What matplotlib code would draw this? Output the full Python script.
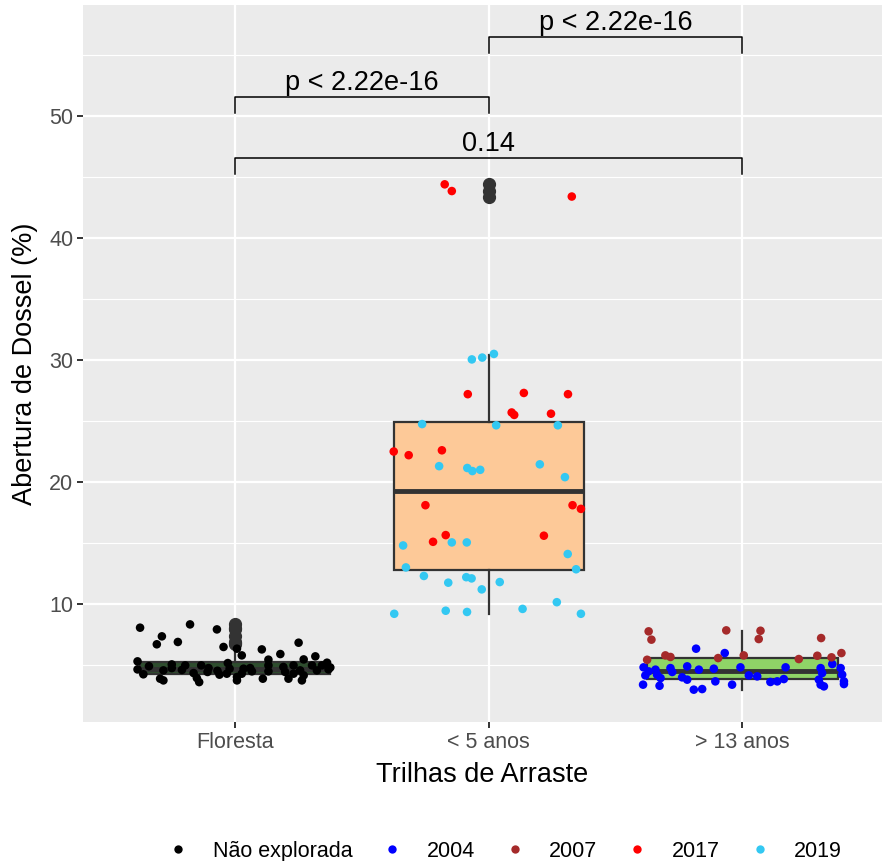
import matplotlib
matplotlib.use("Agg")
import matplotlib.pyplot as plt
from matplotlib.lines import Line2D
import numpy as np

plt.rcParams['font.family'] = ['Liberation Sans', 'DejaVu Sans']

categories = ["Floresta", "< 5 anos", "> 13 anos"]
box_fill = ["#2E4D2E", "#FDC998", "#8FD467"]

# box statistics
box_q1 = [4.26, 12.75, 3.85]
box_med = [4.70, 19.30, 4.50]
box_q3 = [5.25, 24.90, 5.60]
box_lo = [3.60, 9.20, 2.98]
box_hi = [6.48, 30.40, 7.80]
box_fliers = [[8.33, 8.06, 7.92, 7.35, 6.89, 6.83, 6.70],
              [44.40, 43.85, 43.40],
              []]

# jittered points: x position (category coordinate), value
nao_x = [0.625, 0.822, 0.928, 0.711, 0.691, 0.774, 0.954, 1.007, 1.026, 1.105,
         1.178, 1.250, 1.316, 1.270, 1.131, 1.131, 0.615, 0.615, 0.638, 0.704,
         0.717, 0.717, 0.750, 0.750, 0.803, 0.836, 0.849, 0.858, 0.866, 0.895,
         0.891, 0.930, 0.938, 0.971, 0.978, 0.967, 1.007, 1.007, 1.026, 1.033,
         1.059, 1.066, 1.109, 1.131, 1.190, 1.197, 1.210, 1.230, 1.230, 1.256,
         1.263, 1.270, 1.303, 1.322, 1.342, 1.362, 1.368, 1.375, 0.660, 0.790]
nao_y = [8.06, 8.33, 7.92, 7.35, 6.70, 6.89, 6.48, 6.34, 5.79, 6.28,
         5.90, 6.83, 5.71, 5.46, 5.44, 4.97, 5.30, 4.64, 4.24, 3.88,
         3.74, 4.56, 5.05, 4.75, 4.97, 4.34, 3.93, 3.60, 4.97, 4.75,
         4.43, 4.53, 4.21, 5.16, 4.70, 4.29, 4.02, 3.74, 4.29, 4.70,
         4.75, 4.48, 3.88, 4.48, 4.84, 4.43, 3.88, 4.29, 4.97, 4.56,
         3.74, 4.15, 4.97, 4.56, 4.97, 5.19, 4.64, 4.80, 4.90, 4.60]

y2004_x = [2.817, 2.930, 2.610, 2.630, 2.617, 2.608, 2.657, 2.663, 2.677, 2.673,
           2.716, 2.723, 2.762, 2.782, 2.782, 2.828, 2.808, 2.841, 2.887, 2.893,
           2.959, 2.992, 3.025, 3.058, 3.110, 3.137, 3.163, 3.170, 3.308, 3.314,
           3.301, 3.308, 3.321, 3.354, 3.387, 3.393, 3.400, 3.400]
y2004_y = [6.34, 5.98, 4.81, 4.48, 4.15, 3.39, 4.62, 4.21, 3.93, 3.30,
           4.75, 4.43, 3.99, 4.89, 3.80, 4.62, 2.98, 3.03, 4.70, 3.66,
           3.39, 4.81, 4.15, 4.07, 3.61, 3.66, 3.85, 4.81, 4.75, 4.34,
           3.80, 3.39, 3.25, 5.08, 4.75, 4.21, 3.66, 3.44]

y2007_x = [2.630, 2.641, 2.936, 3.071, 3.064, 3.310, 2.624, 2.696, 2.716, 2.904,
           3.005, 3.222, 3.295, 3.351, 3.390]
y2007_y = [7.76, 7.08, 7.84, 7.81, 7.13, 7.21, 5.43, 5.79, 5.66, 5.57,
           5.79, 5.49, 5.76, 5.63, 5.98]

y2017_x = [1.826, 1.854, 2.327, 1.917, 2.138, 2.312, 2.090, 2.100, 2.245, 1.625,
           1.684, 1.815, 1.750, 2.330, 2.363, 1.830, 1.780, 2.217]
y2017_y = [44.40, 43.85, 43.40, 27.20, 27.30, 27.20, 25.70, 25.50, 25.60, 22.50,
           22.20, 22.60, 18.10, 18.10, 17.80, 15.65, 15.10, 15.60]

y2019_x = [1.933, 1.974, 2.020, 1.737, 2.029, 2.272, 1.804, 1.915, 1.935, 1.966,
           2.201, 2.300, 1.662, 1.854, 1.913, 2.311, 1.673, 2.344, 1.744, 1.840,
           1.911, 1.932, 2.043, 1.972, 2.268, 2.133, 1.627, 1.830, 1.914, 2.363]
y2019_y = [30.05, 30.20, 30.50, 24.75, 24.65, 24.65, 21.30, 21.15, 20.90, 21.00,
           21.45, 20.40, 14.80, 15.05, 15.05, 14.10, 13.00, 12.85, 12.30, 11.75,
           12.20, 12.10, 11.80, 11.20, 10.15, 9.60, 9.20, 9.45, 9.35, 9.20]

series_names = ["Não explorada", "2004", "2007", "2017", "2019"]
series_colors = ["#000000", "#0000FF", "#A52A2A", "#FF0000", "#33C8F2"]
series_x = [nao_x, y2004_x, y2007_x, y2017_x, y2019_x]
series_y = [nao_y, y2004_y, y2007_y, y2017_y, y2019_y]

# comparison brackets
bracket_pairs = [(1, 2), (2, 3), (1, 3)]
bracket_y = [51.56, 56.50, 46.56]
bracket_labels = ["p < 2.22e-16", "p < 2.22e-16", "0.14"]

fig = plt.figure(figsize=(8.82, 8.61), dpi=100)
ax = fig.add_axes([83 / 882, 1 - 722 / 861, 1 - 83 / 882, (722 - 5) / 861])
ax.set_facecolor("#EBEBEB")
for s in ax.spines.values():
    s.set_visible(False)

stats = []
for i in range(3):
    stats.append(dict(med=box_med[i], q1=box_q1[i], q3=box_q3[i],
                      whislo=box_lo[i], whishi=box_hi[i], fliers=box_fliers[i]))
bp = ax.bxp(stats, positions=[1, 2, 3], widths=0.75, patch_artist=True, showcaps=False,
            manage_ticks=False,
            boxprops=dict(edgecolor="#333333", linewidth=1.6),
            medianprops=dict(color="#333333", linewidth=3.5, solid_capstyle="butt"),
            whiskerprops=dict(color="#333333", linewidth=1.6),
            flierprops=dict(marker="o", markerfacecolor="#333333", markeredgecolor="#333333",
                            markersize=8.5, linestyle="none"),
            zorder=2)
for patch, c in zip(bp["boxes"], box_fill):
    patch.set_facecolor(c)

for xs, ys, c in zip(series_x, series_y, series_colors):
    ax.scatter(xs, ys, s=38, color=c, edgecolors="none", zorder=3)

for (a, b), yb, lab in zip(bracket_pairs, bracket_y, bracket_labels):
    ax.plot([a, a, b, b], [yb - 1.3, yb, yb, yb - 1.3], color="black", linewidth=1.1,
            zorder=4, clip_on=False)
    ax.text((a + b) / 2, yb + 0.05, lab, ha="center", va="bottom", fontsize=19.5,
            color="black", zorder=4)

ax.set_xlim(0.40, 3.55)
ax.set_ylim(0.33, 59.1)
ax.set_yticks([10, 20, 30, 40, 50])
ax.set_yticks([5, 15, 25, 35, 45, 55], minor=True)
ax.set_xticks([1, 2, 3])
ax.set_xticklabels(categories)
ax.grid(True, which="major", color="white", linewidth=1.6)
ax.grid(True, which="minor", axis="y", color="white", linewidth=0.8)
ax.set_axisbelow(True)
ax.tick_params(axis="both", which="major", length=4, width=1.4, color="#333333",
               labelcolor="#4D4D4D", labelsize=15.5, pad=3)
ax.tick_params(axis="y", which="minor", length=0)

ax.set_xlabel("Trilhas de Arraste", fontsize=19.5, labelpad=7)
ax.set_ylabel("Abertura de Dossel (%)", fontsize=19.5, labelpad=8)

handles = [Line2D([], [], marker="o", linestyle="none", markersize=6, color=c,
                  markeredgecolor="none") for c in series_colors]
fig.legend(handles, series_names, loc="center", bbox_to_anchor=(0.571, 0.0116), ncol=5,
           frameon=False, fontsize=15.5, handletextpad=1.0, columnspacing=1.25,
           handlelength=1.2)

fig.savefig("out.png", dpi=100)
